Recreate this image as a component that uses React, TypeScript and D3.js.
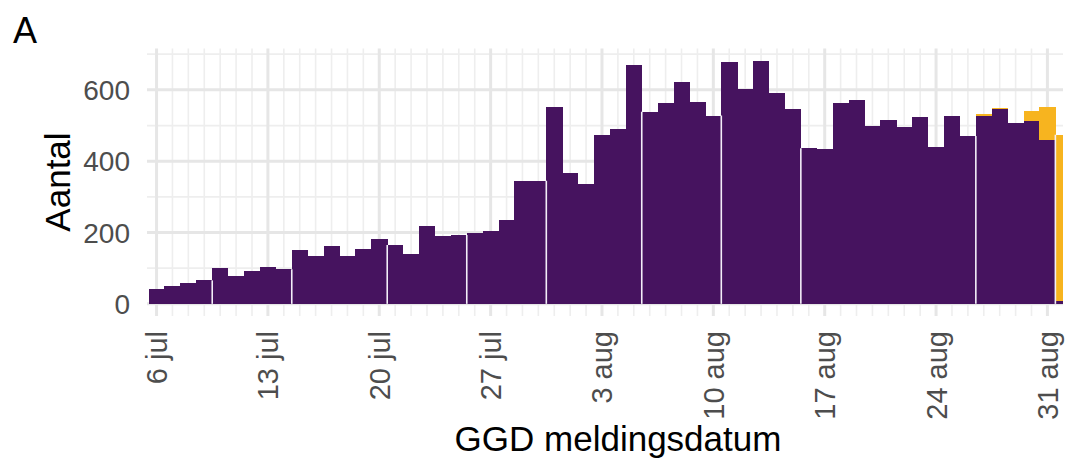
import React from "react";
import * as d3 from "d3";

// ---- data ----
const startDate = "2020-07-06";
const confirmed = [42, 50, 59, 66, 100, 78, 92, 102, 97, 150, 135, 163, 135, 155, 181, 165, 139, 219, 189, 193, 200, 205, 235, 345, 345, 553, 368, 336, 474, 491, 670, 539, 563, 623, 567, 528, 677, 602, 682, 591, 547, 436, 434, 563, 572, 500, 516, 496, 523, 439, 527, 471, 527, 546, 506, 514, 459, 8];
const pending = [0, 0, 0, 0, 0, 0, 0, 0, 0, 0, 0, 0, 0, 0, 0, 0, 0, 0, 0, 0, 0, 0, 0, 0, 0, 0, 0, 0, 0, 0, 0, 0, 0, 0, 0, 0, 0, 0, 0, 0, 0, 0, 0, 0, 0, 0, 0, 0, 0, 0, 0, 0, 4, 4, 0, 26, 92, 466];
const tickDates = ["2020-07-06", "2020-07-13", "2020-07-20", "2020-07-27", "2020-08-03", "2020-08-10", "2020-08-17", "2020-08-24", "2020-08-31"];
const tickLabels = ["6 jul", "13 jul", "20 jul", "27 jul", "3 aug", "10 aug", "17 aug", "24 aug", "31 aug"];
const yTicks = [0, 200, 400, 600];
const yMinor = [100, 300, 500, 700];
const seamAfter = ["2020-07-09", "2020-07-14", "2020-07-20", "2020-07-25", "2020-07-30", "2020-08-05", "2020-08-10", "2020-08-15", "2020-08-26", "2020-08-31"];

const PURPLE = "#46135f";
const YELLOW = "#f7b41f";
const FONT = "'Liberation Sans', Arial, Helvetica, sans-serif";

export default function App() {
  const W = 1065, H = 460;
  const left = 147, right = 1063, top = 48.5, bottom = 316;
  const t0 = new Date(startDate + "T00:00:00Z");
  const dates = confirmed.map((_, i) => d3.utcDay.offset(t0, i));
  const half = 12 * 3600 * 1000;
  const x = d3
    .scaleUtc()
    .domain([new Date(Date.UTC(2020, 6, 5, 9, 36)), new Date(Date.UTC(2020, 7, 31, 23, 30))])
    .range([left, right]);
  const y = d3.scaleLinear().domain([-34, 716]).range([bottom, top]);
  const allDays = d3.utcDay.range(new Date(Date.UTC(2020, 6, 6)), new Date(Date.UTC(2020, 8, 1)));
  const majorDates = tickDates.map((s) => new Date(s + "T00:00:00Z"));
  const isMajor = (d: Date) => majorDates.some((m) => +m === +d);

  return (
    <svg width={W} height={H} style={{ position: "absolute", left: 0, top: 0, background: "#fff" }}>
      <defs>
        <clipPath id="panel">
          <rect x={left} y={top} width={right - left} height={bottom - top} />
        </clipPath>
      </defs>
      <text x={13} y={43} fontFamily={FONT} fontSize={36} fill="#000">A</text>
      {/* grid */}
      <g>
        {yMinor.map((v) => (
          <line key={"ym" + v} x1={left} x2={right} y1={y(v)} y2={y(v)} stroke="#eeeeee" strokeWidth={1.8} />
        ))}
        {allDays.filter((d) => !isMajor(d)).map((d, i) => (
          <line key={"xm" + i} x1={x(d)} x2={x(d)} y1={top} y2={bottom} stroke="#eeeeee" strokeWidth={1.6} />
        ))}
        {yTicks.map((v) => (
          <line key={"yM" + v} x1={left} x2={right} y1={y(v)} y2={y(v)} stroke="#e6e6e6" strokeWidth={3} />
        ))}
        {majorDates.map((d, i) => (
          <line key={"xM" + i} x1={x(d)} x2={x(d)} y1={top} y2={bottom} stroke="#e6e6e6" strokeWidth={3} />
        ))}
      </g>
      {/* bars */}
      <g clipPath="url(#panel)" shapeRendering="crispEdges">
        {dates.map((d, i) => {
          const x0 = x(new Date(+d - half));
          const x1 = x(new Date(+d + half));
          return (
            <g key={i}>
              <rect x={x0} width={x1 - x0 + 0.3} y={y(confirmed[i])} height={y(0) - y(confirmed[i])} fill={PURPLE} />
              {pending[i] > 0 && (
                <rect
                  x={x0}
                  width={x1 - x0 + 0.3}
                  y={y(confirmed[i] + pending[i])}
                  height={y(confirmed[i]) - y(confirmed[i] + pending[i])}
                  fill={YELLOW}
                />
              )}
            </g>
          );
        })}
      </g>
      <g clipPath="url(#panel)">
        {seamAfter.map((s, i) => {
          const idx = dates.findIndex((d) => +d === +new Date(s + "T00:00:00Z"));
          const d = dates[idx];
          const xs = x(new Date(+d + half));
          const hgt = Math.min(confirmed[idx] + pending[idx], confirmed[idx + 1] + pending[idx + 1]);
          return <line key={i} x1={xs} x2={xs} y1={y(hgt)} y2={y(0)} stroke="#f3eef8" strokeWidth={1.6} />;
        })}
      </g>
      {/* y axis labels */}
      {yTicks.map((v) => (
        <text key={v} x={130} y={y(v)} dy="0.36em" textAnchor="end" fontFamily={FONT} fontSize={28} fill="#4d4d4d">
          {v}
        </text>
      ))}
      <text transform={`translate(70,182) rotate(-90)`} textAnchor="middle" fontFamily={FONT} fontSize={35} fill="#000">
        Aantal
      </text>
      {/* x axis labels */}
      {majorDates.map((d, i) => (
        <text
          key={i}
          transform={`translate(${x(d)},331) rotate(-90)`}
          textAnchor="end"
          dy="0.36em"
          fontFamily={FONT}
          fontSize={29}
          fill="#4d4d4d"
        >
          {tickLabels[i]}
        </text>
      ))}
      <text x={618} y={451} textAnchor="middle" fontFamily={FONT} fontSize={35} fill="#000">
        GGD meldingsdatum
      </text>
    </svg>
  );
}
